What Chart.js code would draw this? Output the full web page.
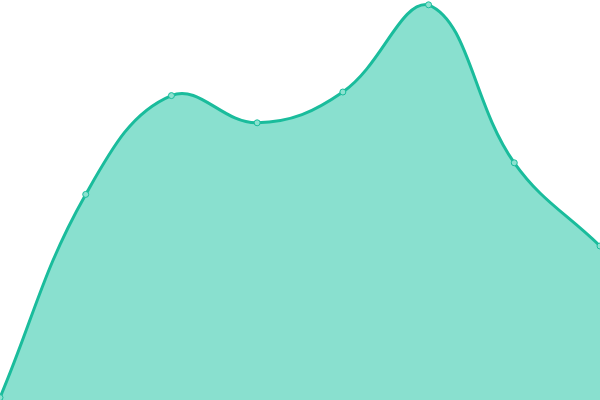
<!DOCTYPE html>
<html>
<head>
<meta charset="utf-8">
<script src="https://cdn.jsdelivr.net/npm/chart.js@4/dist/chart.umd.min.js"></script>
<style>
  html, body { margin: 0; padding: 0; background: #fff; }
  #wrap { width: 600px; height: 400px; }
</style>
</head>
<body>
<div id="wrap"><canvas id="areaChart"></canvas></div>
<script>
const labels = ['1', '2', '3', '4', '5', '6', '7', '8'];
const values = [0.6, 51.4, 76.1, 69.3, 77, 98.8, 59.3, 38.5];

const colors = {
    line: 'rgb(26, 188, 156)',
    fill: 'rgb(137, 224, 207)',
    point: 'rgb(140, 226, 208)'
};

document.addEventListener('DOMContentLoaded', function () {
    const ctx = document.getElementById('areaChart').getContext('2d');
    new Chart(ctx, {
        type: 'line',
        data: {
            labels: labels,
            datasets: [{
                data: values,
                borderColor: colors.line,
                backgroundColor: colors.fill,
                borderWidth: 3,
                fill: 'origin',
                tension: 0.4,
                pointRadius: 3,
                pointBorderWidth: 1,
                pointBackgroundColor: colors.point,
                pointBorderColor: colors.line
            }]
        },
        options: {
            responsive: true,
            maintainAspectRatio: false,
            animation: false,
            layout: { padding: 0, autoPadding: false },
            scales: {
                x: { display: false },
                y: { display: false, min: 0, max: 100 }
            },
            plugins: {
                legend: { display: false },
                tooltip: { enabled: false }
            }
        }
    });
});
</script>
</body>
</html>
